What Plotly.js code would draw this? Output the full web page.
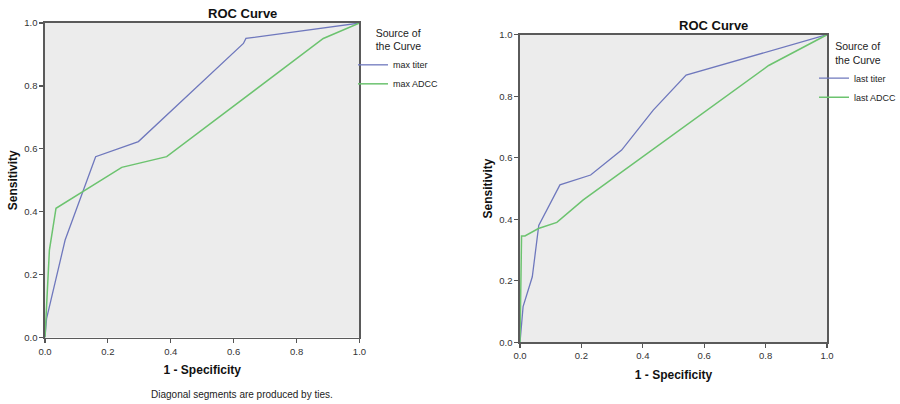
<!DOCTYPE html>
<html>
<head>
<meta charset="utf-8">
<script src="https://cdn.plot.ly/plotly-3.0.1.min.js"></script>
<style>html,body{margin:0;padding:0;background:#fff;}#chart{width:900px;height:404px;}</style>
</head>
<body>
<div id="chart"></div>
<script>
// Left panel: max titer / max ADCC
const maxTiterFPR = [0, 0.005, 0.064, 0.161, 0.297, 0.631, 0.639, 1];
const maxTiterTPR = [0, 0.06, 0.31, 0.575, 0.623, 0.935, 0.951, 1];
const maxAdccFPR = [0, 0.014, 0.035, 0.244, 0.387, 0.885, 1];
const maxAdccTPR = [0, 0.278, 0.411, 0.541, 0.575, 0.951, 1];

// Right panel: last titer / last ADCC
const lastTiterFPR = [0, 0.002, 0.01, 0.04, 0.061, 0.13, 0.23, 0.331, 0.434, 0.541, 1];
const lastTiterTPR = [0, 0.03, 0.116, 0.213, 0.38, 0.512, 0.544, 0.625, 0.755, 0.869, 1];
const lastAdccFPR = [0, 0.002, 0.005, 0.016, 0.06, 0.12, 0.206, 0.81, 1];
const lastAdccTPR = [0, 0.25, 0.346, 0.346, 0.37, 0.39, 0.463, 0.9, 1];

const tickVals = [0, 0.2, 0.4, 0.6, 0.8, 1.0];
const tickLabels = ["0.0", "0.2", "0.4", "0.6", "0.8", "1.0"];

const seriesNames = ["max titer", "max ADCC", "last titer", "last ADCC"];

const FONT = "Liberation Sans, Arial, sans-serif";
const BLUE = "#6f78bd";
const GREEN = "#6cc36f";

const traces = [
  {x: maxTiterFPR, y: maxTiterTPR, name: seriesNames[0], xaxis: "x", yaxis: "y", legend: "legend",
   mode: "lines", line: {color: BLUE, width: 1.3}, cliponaxis: false},
  {x: maxAdccFPR, y: maxAdccTPR, name: seriesNames[1], xaxis: "x", yaxis: "y", legend: "legend",
   mode: "lines", line: {color: GREEN, width: 1.5}, cliponaxis: false},
  {x: lastTiterFPR, y: lastTiterTPR, name: seriesNames[2], xaxis: "x2", yaxis: "y2", legend: "legend2",
   mode: "lines", line: {color: BLUE, width: 1.3}, cliponaxis: false},
  {x: lastAdccFPR, y: lastAdccTPR, name: seriesNames[3], xaxis: "x2", yaxis: "y2", legend: "legend2",
   mode: "lines", line: {color: GREEN, width: 1.5}, cliponaxis: false}
];

function axis(extra, titleText, standoff) {
  return Object.assign({
    range: [0, 1],
    tickvals: tickVals,
    ticktext: tickLabels,
    ticks: "outside",
    ticklen: 4,
    tickwidth: 1.2,
    tickcolor: "#555",
    showline: true,
    linecolor: "#5a5a5a",
    linewidth: 1.6,
    mirror: true,
    showgrid: false,
    zeroline: false,
    fixedrange: true,
    automargin: false,
    tickfont: {family: FONT, size: 9.5, color: "#333"},
    title: {text: titleText, font: {family: FONT, size: 12, color: "#111", weight: "bold"}, standoff: standoff}
  }, extra);
}

const legendCommon = {
  xanchor: "left", yanchor: "top",
  bgcolor: "rgba(0,0,0,0)",
  font: {family: FONT, size: 9, color: "#222"},
  tracegroupgap: 0,
  itemwidth: 30
};

const layout = {
  width: 900, height: 404,
  margin: {l: 0, r: 0, t: 0, b: 0, autoexpand: false},
  paper_bgcolor: "#ffffff",
  plot_bgcolor: "#ececec",
  showlegend: true,
  xaxis: axis({domain: [0.05, 0.3994], anchor: "y"}, "<b>1 - Specificity</b>", 10),
  yaxis: axis({domain: [0.1646, 0.943], anchor: "x"}, "<b>Sensitivity</b>", 4),
  xaxis2: axis({domain: [0.5778, 0.9189], anchor: "y2"}, "<b>1 - Specificity</b>", 10),
  yaxis2: axis({domain: [0.1527, 0.914], anchor: "x2"}, "<b>Sensitivity</b>", 4),
  legend: Object.assign({}, legendCommon, {
    x: 353/900, y: 0.943,
    title: {text: "Source of<br>the Curve", side: "top center", font: {family: FONT, size: 10.5, color: "#222"}}
  }),
  legend2: Object.assign({}, legendCommon, {
    x: 814/900, y: 0.91,
    title: {text: "Source of<br>the Curve", side: "top center", font: {family: FONT, size: 10.5, color: "#222"}}
  }),
  annotations: [
    {text: "<b>ROC Curve</b>", xref: "paper", yref: "paper", x: 242/900, y: 1 - 13/404,
     xanchor: "center", yanchor: "middle", showarrow: false, font: {family: FONT, size: 13, color: "#111"}},
    {text: "<b>ROC Curve</b>", xref: "paper", yref: "paper", x: 713/900, y: 1 - 25/404,
     xanchor: "center", yanchor: "middle", showarrow: false, font: {family: FONT, size: 13, color: "#111"}},
    {text: "Diagonal segments are produced by ties.", xref: "paper", yref: "paper", x: 242/900, y: 1 - 394/404,
     xanchor: "center", yanchor: "middle", showarrow: false, font: {family: FONT, size: 10, color: "#222"}}
  ]
};

Plotly.newPlot("chart", traces, layout, {staticPlot: true, displayModeBar: false});
</script>
</body>
</html>
